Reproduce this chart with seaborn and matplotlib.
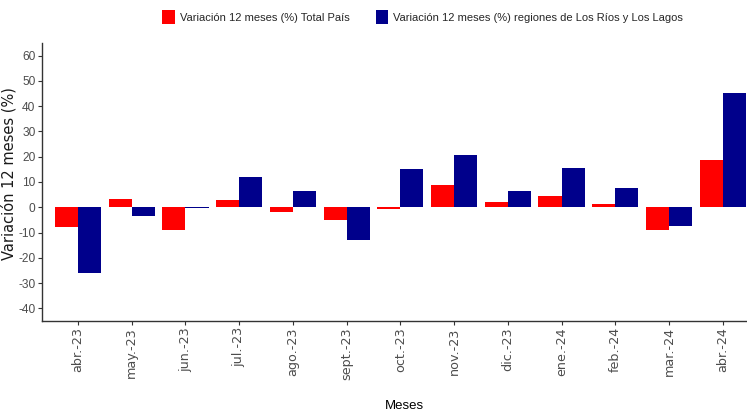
import matplotlib
matplotlib.use("Agg")
import matplotlib.pyplot as plt
import seaborn as sns
import pandas as pd
from matplotlib.patches import Patch
from matplotlib import font_manager

months = ["abr.-23", "may.-23", "jun.-23", "jul.-23", "ago.-23", "sept.-23", "oct.-23",
          "nov.-23", "dic.-23", "ene.-24", "feb.-24", "mar.-24", "abr.-24"]
total_pais = [-7.7, 3.4, -9.1, 2.8, -1.8, -5.0, -0.5, 8.7, 2.1, 4.5, 1.3, -9.1, 18.6]
rios_lagos = [-26.1, -3.6, -0.3, 12.1, 6.3, -12.9, 15.0, 20.6, 6.5, 15.4, 7.6, -7.5, 45.1]
series_names = ["Variación 12 meses (%) Total País",
                "Variación 12 meses (%) regiones de Los Ríos y Los Lagos"]
colors = ["#FF0000", "#00008B"]
y_ticks = list(range(-40, 61, 10))

df = pd.DataFrame({
    "Meses": months * 2,
    "valor": total_pais + rios_lagos,
    "serie": [series_names[0]] * len(months) + [series_names[1]] * len(months),
})

sns.set_theme(style="white")
names = {f.name for f in font_manager.fontManager.ttflist}
narrow = "Liberation Sans Narrow" if "Liberation Sans Narrow" in names else "Liberation Sans"
plt.rcParams["font.family"] = ["DejaVu Sans"]

fig = plt.figure(figsize=(7.47, 4.13), dpi=100)
ax = fig.add_axes([0.0558, 0.2228, 0.9442, 0.6732])

sns.barplot(data=df, x="Meses", y="valor", hue="serie", order=months,
            hue_order=series_names, palette=colors, width=0.86, ax=ax,
            legend=False, saturation=1, linewidth=0)

ax.set_xlim(-0.675, 12.45)
ax.set_ylim(-45, 65)
ax.set_yticks(y_ticks)
ax.set_yticklabels([str(t) for t in y_ticks], fontfamily=narrow, fontsize=8.6, color="#4d4d4d")
ax.set_xticks(range(len(months)))
ax.set_xticklabels(months, rotation=90, fontsize=9.2, color="#4d4d4d", fontfamily="DejaVu Sans")
ax.tick_params(axis="both", which="both", length=3, width=0.8, color="#333333",
               left=True, bottom=True, pad=1.5)
for s in ["top", "right"]:
    ax.spines[s].set_visible(False)
for s in ["left", "bottom"]:
    ax.spines[s].set_color("#333333")
    ax.spines[s].set_linewidth(1.0)

ax.set_ylabel("Variación 12 meses (%)", fontsize=10.5, fontfamily="DejaVu Sans", color="#1a1a1a")
ax.yaxis.set_label_coords(-0.035, 0.53)
ax.set_xlabel("Meses", fontsize=9.5, fontfamily=narrow, color="black")
ax.xaxis.set_label_coords(0.515, -0.285)

handles = [Patch(facecolor=c, edgecolor="none") for c in colors]
leg = fig.legend(handles, series_names, loc="center", bbox_to_anchor=(0.566, 0.958), ncol=2,
                 frameon=False, prop={"family": narrow, "size": 8.0},
                 handlelength=1.1, handleheight=1.6, handletextpad=0.45, columnspacing=2.4)

fig.savefig("out.png", dpi=100)
